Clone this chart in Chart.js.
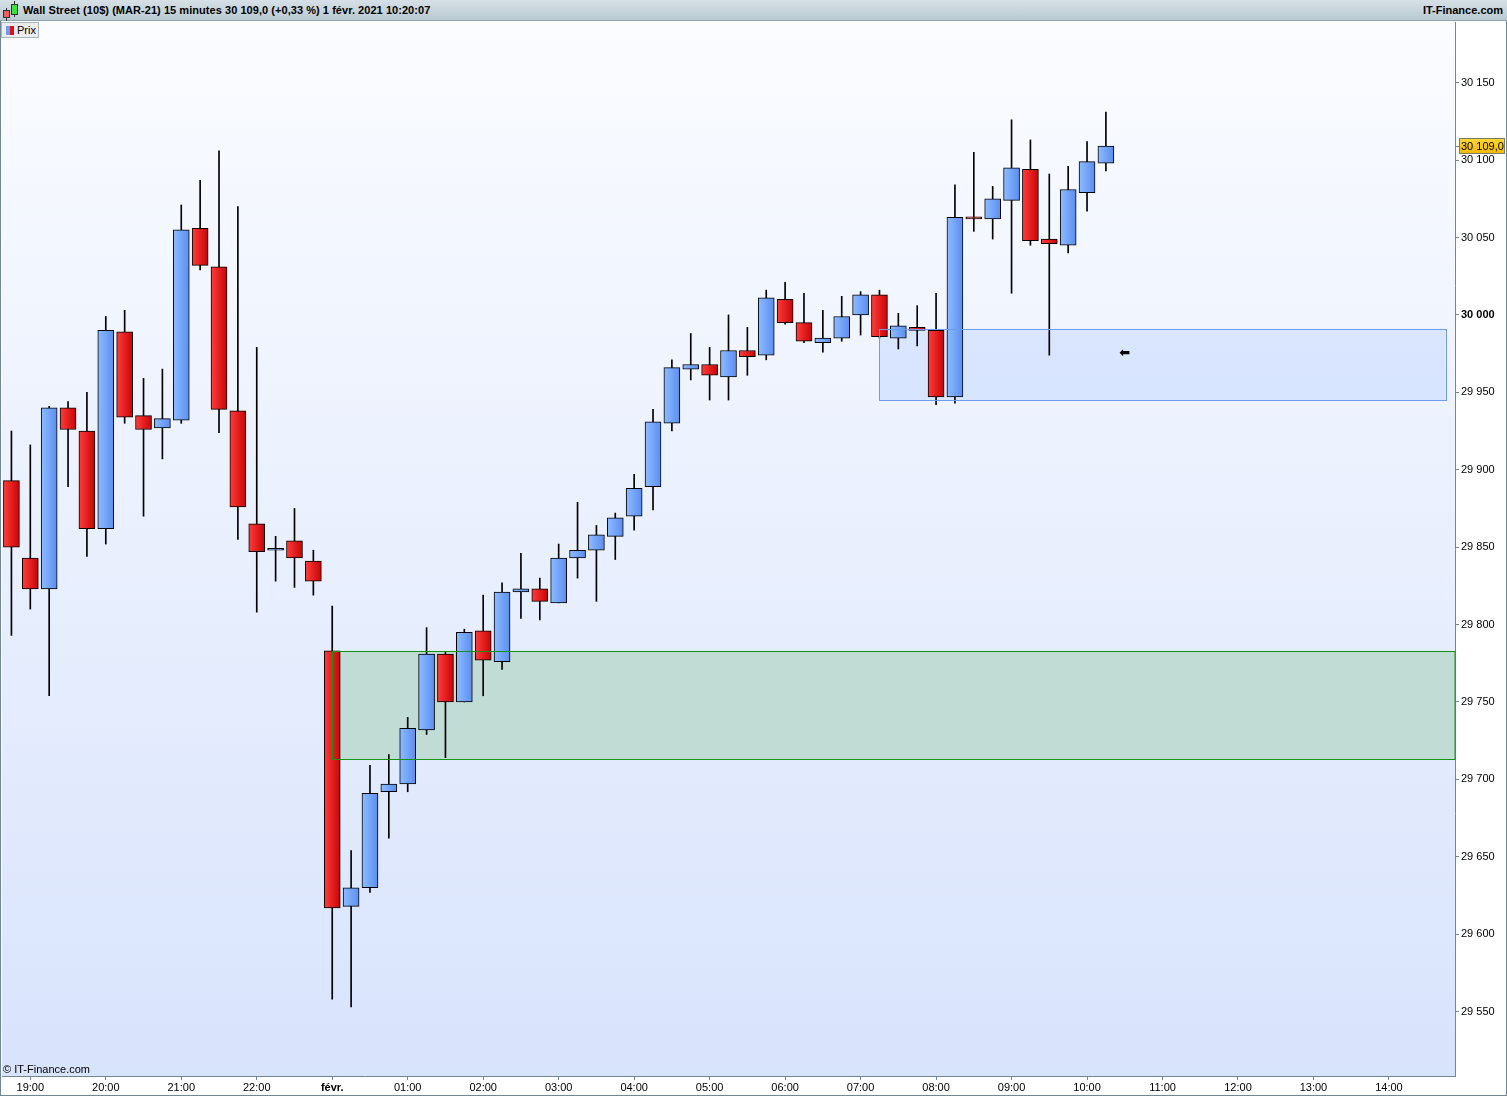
<!DOCTYPE html>
<html>
<head>
<meta charset="utf-8">
<script src="https://cdn.jsdelivr.net/npm/chart.js@4.4.1/dist/chart.umd.min.js"></script>
<style>
  html, body { margin: 0; padding: 0; background: #fff; }
  #wrap { position: relative; width: 1507px; height: 1096px; overflow: hidden; font-family: "Liberation Sans", Arial, sans-serif; }
  #chart { position: absolute; left: 0; top: 0; }
  #header { position: absolute; left: 0; top: 0; width: 1507px; height: 21px; box-sizing: border-box;
    background: linear-gradient(#d6e0e6, #bac9d2); border-bottom: 1px solid #8fa4b0;
    font-weight: bold; font-size: 11px; line-height: 20px; color: #000; }
  #header .title { position: absolute; left: 23px; top: 0; letter-spacing: 0.05px; }
  #header .site { position: absolute; right: 4px; top: 0; }
  .cdl { position: absolute; border: 1px solid #333; box-sizing: border-box; }
  .wk { position: absolute; width: 1px; background: #333; }
  #prix { position: absolute; left: 1px; top: 22px; width: 38px; height: 16px; box-sizing: border-box;
    background: #ececec; border: 1px solid #a9b6be; font-size: 11px; line-height: 14px; }
  #prix .ic { position: absolute; left: 4px; top: 3px; width: 4px; height: 9px; background: #6c9cf6; }
  #prix .ic2 { position: absolute; left: 8px; top: 3px; width: 4px; height: 9px; background: #e01010; }
  #prix span { position: absolute; left: 15px; top: 0; }
  #copy { position: absolute; left: 3px; top: 1063px; font-size: 11px; color: #000; }
  #frame { position: absolute; left: 0; top: 21px; width: 1507px; height: 1075px; box-sizing: border-box;
    border: 1px solid #6f8796; border-top: none; pointer-events: none; }
</style>
</head>
<body>
<div id="wrap">
  <canvas id="chart" width="1507" height="1096"></canvas>
  <div id="header">
    <div class="wk" style="left:6px;top:8px;height:13px"></div>
    <div class="cdl" style="left:3px;top:10px;width:7px;height:8px;background:#f06060"></div>
    <div class="wk" style="left:14px;top:1px;height:16px"></div>
    <div class="cdl" style="left:11px;top:4px;width:7px;height:11px;background:#40e040"></div>
    <div class="title">Wall Street (10$) (MAR-21) 15 minutes 30 109,0 (+0,33 %) 1 févr. 2021 10:20:07</div>
    <div class="site">IT-Finance.com</div>
  </div>
  <div id="prix"><div class="ic"></div><div class="ic2"></div><span>Prix</span></div>
  <div id="copy">© IT-Finance.com</div>
  <div id="frame"></div>
</div>
<script>
/* ---------------------------------
   DATA (15 min candles, Wall Street MAR-21)
--------------------------------- */
const labels = [
  "18:45",
  "19:00", "19:15", "19:30", "19:45", "20:00", "20:15", "20:30", "20:45",
  "21:00", "21:15", "21:30", "21:45", "22:00", "22:15", "22:30", "22:45",
  "00:00", "00:15", "00:30", "00:45", "01:00", "01:15", "01:30", "01:45",
  "02:00", "02:15", "02:30", "02:45", "03:00", "03:15", "03:30", "03:45",
  "04:00", "04:15", "04:30", "04:45", "05:00", "05:15", "05:30", "05:45",
  "06:00", "06:15", "06:30", "06:45", "07:00", "07:15", "07:30", "07:45",
  "08:00", "08:15", "08:30", "08:45", "09:00", "09:15", "09:30", "09:45",
  "10:00", "10:15", "10:30", "10:45", "11:00", "11:15", "11:30", "11:45",
  "12:00", "12:15", "12:30", "12:45", "13:00", "13:15", "13:30", "13:45",
  "14:00", "14:15", "14:30", "14:45"
];

const opens = [
  29893, 29843, 29823, 29940, 29925, 29862, 29989, 29935, 29927, 29932,
  30056, 30031, 29938, 29865, 29848, 29854, 29841, 29783, 29618, 29630,
  29692, 29697, 29732, 29781, 29750, 29796, 29776, 29821, 29823, 29814,
  29843, 29848, 29857, 29870, 29889, 29930, 29965, 29968, 29960, 29977,
  29974, 30010, 29995, 29982, 29985, 30000, 30013, 29985, 29992, 29990,
  29947, 30063, 30062, 30074, 30094, 30049, 30045, 30079, 30098
];
const highs = [
  29925, 29916, 29941, 29944, 29950, 29999, 30003, 29959, 29965, 30071,
  30087, 30106, 30070, 29979, 29857, 29875, 29848, 29812, 29654, 29709,
  29716, 29740, 29798, 29782, 29797, 29819, 29827, 29846, 29830, 29852,
  29879, 29864, 29872, 29897, 29939, 29971, 29988, 29979, 30000, 29992,
  30016, 30021, 30014, 30003, 30012, 30015, 30016, 30001, 30006, 30014,
  30084, 30105, 30083, 30126, 30113, 30091, 30096, 30112, 30131
];
const lows = [
  29793, 29810, 29754, 29889, 29844, 29852, 29930, 29870, 29907, 29930,
  30029, 29924, 29855, 29808, 29828, 29824, 29819, 29558, 29553, 29627,
  29662, 29692, 29729, 29714, 29750, 29754, 29771, 29804, 29803, 29814,
  29830, 29815, 29842, 29861, 29874, 29925, 29958, 29945, 29945, 29961,
  29971, 29994, 29982, 29976, 29983, 29987, 29985, 29978, 29980, 29942,
  29943, 30054, 30049, 30014, 30045, 29974, 30040, 30067, 30093
];
const closes = [
  29850, 29823, 29940, 29926, 29862, 29990, 29934, 29926, 29933, 30055,
  30032, 29939, 29876, 29847, 29848, 29843, 29828, 29617, 29630, 29691,
  29697, 29733, 29781, 29750, 29795, 29777, 29821, 29823, 29815, 29843,
  29848, 29858, 29869, 29888, 29931, 29966, 29968, 29961, 29977, 29973,
  30011, 29995, 29983, 29985, 29999, 30013, 29986, 29993, 29990, 29947,
  30063, 30062, 30075, 30095, 30048, 30046, 30081, 30099, 30109
];

// rectangles drawn on the chart: [from label, to label (null = right edge)], price bounds
const zoneFrom = ["00:00", "07:15"];
const zoneTo = [null, "14:45"];
const zoneTop = [29783, 29991];
const zoneBottom = [29713, 29945];

const arrowAt = "10:30";
const arrowPrice = 29975;
const lastPrice = 30109.0;

const yMin = 29508.4;
const yMax = 30189.2;

/* ---------------------------------
   STYLE
--------------------------------- */
const zoneStyle = [
  { fill: "#c1dcd5", line: "#149414" },
  { fill: "rgba(170,198,255,0.32)", line: "#6d9cf3" }
];
const axisColor = "#6f8796";
const tickFont = { family: "'Liberation Sans', Arial, sans-serif", size: 11 };

function fmtPrice(v) {
  return Math.round(v).toString().replace(/\B(?=(\d{3})+(?!\d))/g, " ");
}

function bodyFill(ctx) {
  const i = ctx.dataIndex;
  if (closes[i] == null) return "#000";
  const up = closes[i] >= opens[i];
  const xs = ctx.chart.scales.x;
  const cx = xs ? xs.getPixelForValue(i) : NaN;
  if (!isFinite(cx)) return up ? "#6f9ff6" : "#e41c1c";
  const g = ctx.chart.ctx.createLinearGradient(cx - 8, 0, cx + 8, 0);
  if (up) {
    g.addColorStop(0, "#8dbcff");
    g.addColorStop(1, "#5b8df0");
  } else {
    g.addColorStop(0, "#ff3d3d");
    g.addColorStop(1, "#c80404");
  }
  return g;
}

/* ---------------------------------
   PLUGIN: background, zones, arrow, price tag
--------------------------------- */
const decor = {
  id: "decor",
  beforeDraw(chart) {
    const { ctx, chartArea: a } = chart;
    const g = ctx.createLinearGradient(0, a.top, 0, a.bottom);
    g.addColorStop(0, "#fafcff");
    g.addColorStop(1, "#d8e3fc");
    ctx.save();
    ctx.fillStyle = g;
    ctx.fillRect(a.left, a.top, a.right - a.left, a.bottom - a.top);
    ctx.restore();
  },
  beforeDatasetsDraw(chart) {
    const { ctx, chartArea: a, scales } = chart;
    ctx.save();
    zoneFrom.forEach((f, i) => {
      const x0 = scales.x.getPixelForValue(labels.indexOf(f));
      const x1 = zoneTo[i] ? scales.x.getPixelForValue(labels.indexOf(zoneTo[i])) : a.right;
      const y0 = scales.y.getPixelForValue(zoneTop[i]);
      const y1 = scales.y.getPixelForValue(zoneBottom[i]);
      ctx.fillStyle = zoneStyle[i].fill;
      ctx.fillRect(x0, y0, x1 - x0, y1 - y0);
    });
    ctx.restore();
  },
  afterDatasetsDraw(chart) {
    const { ctx, chartArea: a, scales } = chart;
    ctx.save();
    ctx.lineWidth = 1;
    zoneFrom.forEach((f, i) => {
      const x0 = Math.round(scales.x.getPixelForValue(labels.indexOf(f))) + 0.5;
      const x1 = zoneTo[i] ? Math.round(scales.x.getPixelForValue(labels.indexOf(zoneTo[i]))) + 0.5 : a.right;
      const y0 = Math.round(scales.y.getPixelForValue(zoneTop[i])) + 0.5;
      const y1 = Math.round(scales.y.getPixelForValue(zoneBottom[i])) + 0.5;
      ctx.strokeStyle = zoneStyle[i].line;
      ctx.strokeRect(x0, y0, x1 - x0, y1 - y0);
    });
    // arrow marker
    const ax = scales.x.getPixelForValue(labels.indexOf(arrowAt));
    const ay = scales.y.getPixelForValue(arrowPrice);
    ctx.fillStyle = "#000";
    ctx.font = "bold 13px 'DejaVu Sans'";
    ctx.textAlign = "center";
    ctx.textBaseline = "middle";
    ctx.fillText("\u2B05", ax, ay);
    ctx.restore();
  },
  afterDraw(chart) {
    const { ctx, chartArea: a, scales } = chart;
    const y = Math.round(scales.y.getPixelForValue(lastPrice));
    const x = a.right + 4;
    ctx.save();
    const g = ctx.createLinearGradient(0, y - 8, 0, y + 8);
    g.addColorStop(0, "#ffd83a");
    g.addColorStop(1, "#f2b800");
    ctx.fillStyle = g;
    ctx.fillRect(x, y - 8, 46, 16);
    ctx.strokeStyle = "#7d7a6a";
    ctx.lineWidth = 1;
    ctx.strokeRect(x + 0.5, y - 7.5, 45, 15);
    ctx.beginPath();
    ctx.moveTo(a.right, y + 0.5);
    ctx.lineTo(x, y + 0.5);
    ctx.strokeStyle = axisColor;
    ctx.stroke();
    ctx.fillStyle = "#000";
    ctx.font = "11px 'Liberation Sans', Arial, sans-serif";
    ctx.textBaseline = "middle";
    ctx.fillText(fmtPrice(lastPrice) + ",0", x + 2, y + 1);
    ctx.restore();
  }
};

/* ---------------------------------
   CHART
--------------------------------- */
const ctx = document.getElementById("chart").getContext("2d");
new Chart(ctx, {
  type: "bar",
  data: {
    labels,
    datasets: [
      {
        label: "wick",
        data: lows.map((l, i) => [l, highs[i]]),
        backgroundColor: "#000",
        borderWidth: 0,
        barThickness: 1,
        grouped: false,
        order: 2
      },
      {
        label: "Prix",
        data: opens.map((o, i) => [o, closes[i]]),
        backgroundColor: bodyFill,
        borderColor: "#000",
        borderWidth: 1,
        borderSkipped: false,
        barThickness: 16,
        minBarLength: 2,
        grouped: false,
        order: 1
      }
    ]
  },
  options: {
    responsive: false,
    animation: false,
    layout: { padding: { top: 22, left: 2, right: 0, bottom: 0 } },
    plugins: {
      legend: { display: false },
      tooltip: { enabled: false }
    },
    scales: {
      x: {
        type: "category",
        offset: true,
        afterFit: (s) => { s.height = 20; },
        grid: { offset: false, drawOnChartArea: false, tickLength: 4, color: axisColor },
        border: { color: axisColor },
        ticks: {
          autoSkip: false,
          maxRotation: 0,
          padding: 1,
          color: "#000",
          font: (c) => ({ ...tickFont, weight: c.tick && c.tick.label === "févr." ? "bold" : "normal" }),
          callback: function (v) {
            const l = labels[v];
            if (!l.endsWith(":00")) return null;
            return l === "00:00" ? "févr." : l;
          }
        }
      },
      y: {
        type: "linear",
        position: "right",
        min: yMin,
        max: yMax,
        afterFit: (s) => { s.width = 52; },
        grid: { drawOnChartArea: false, tickLength: 4, color: axisColor },
        border: { color: axisColor },
        ticks: {
          stepSize: 50,
          maxTicksLimit: 30,
          includeBounds: false,
          padding: 2,
          color: "#000",
          font: (c) => ({ ...tickFont, weight: c.tick && c.tick.value === 30000 ? "bold" : "normal" }),
          callback: (v) => fmtPrice(v)
        }
      }
    }
  },
  plugins: [decor]
});
</script>
</body>
</html>
